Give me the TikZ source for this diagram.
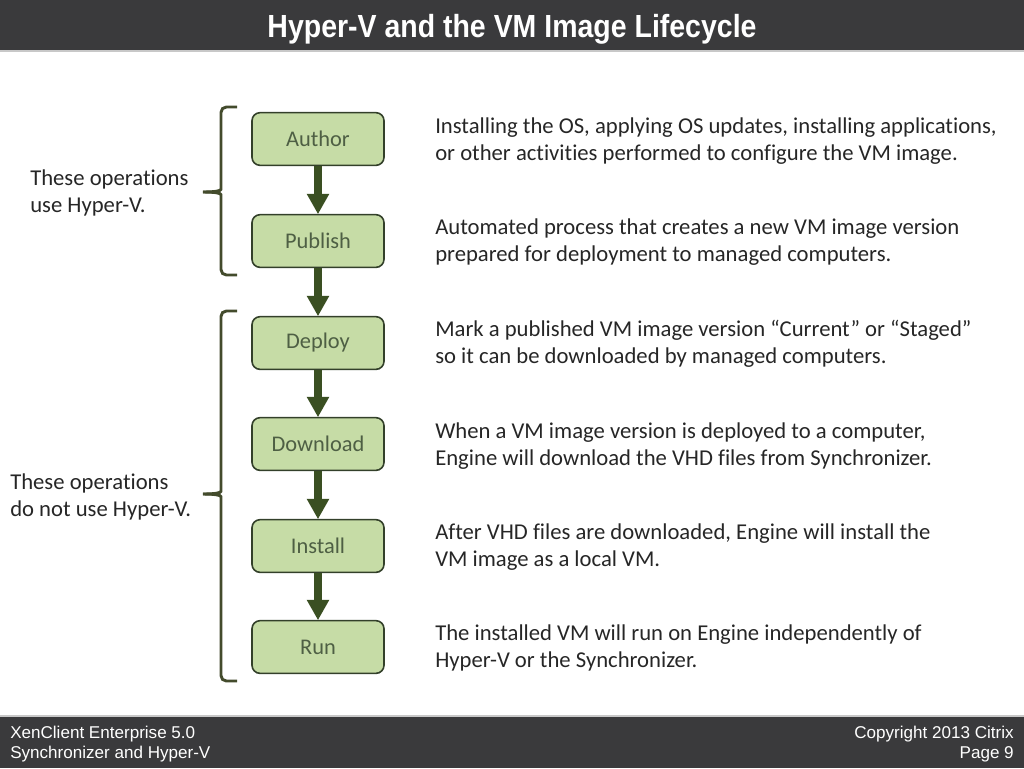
\documentclass[tikz,border=0pt]{standalone}
\usepackage{fontspec}
\setmainfont{Carlito}[Ligatures=NoCommon]
\newfontfamily\headfont{Liberation Sans}
\definecolor{barGray}{HTML}{3A3A3C}
\definecolor{lineGray}{HTML}{C8C8C8}
\definecolor{boxFill}{HTML}{C6DCA6}
\definecolor{boxEdge}{HTML}{33402A}
\definecolor{boxText}{HTML}{4E5F44}
\definecolor{flowArrow}{HTML}{3A4F22}
\definecolor{braceCol}{HTML}{434B2C}
\definecolor{bodyText}{HTML}{262626}
\begin{document}
\begin{tikzpicture}[x=0.75pt,y=-0.75pt,
  stage/.style={draw=boxEdge, line width=1.2pt, fill=boxFill, rounded corners=6pt,
    minimum width=99pt, minimum height=39.5pt, text=boxText,
    font=\fontsize{16.8}{19}\selectfont},
  explain/.style={anchor=west, align=left, text=bodyText,
    font=\fontsize{17}{20.25}\selectfont, inner sep=0pt},
  bracket/.style={draw=braceCol, line width=2.2pt}]
\useasboundingbox (0,0) rectangle (1024,768);
% title and footer bars
\fill[barGray] (0,0) rectangle (1024,50);
\fill[lineGray] (0,50) rectangle (1024,52);
\node[text=white, font=\headfont\bfseries\fontsize{24}{28}\selectfont, xscale=0.89] (title) at (512,29) {Hyper-V and the VM Image Lifecycle};
\fill[lineGray] (0,715) rectangle (1024,717);
\fill[barGray] (0,717) rectangle (1024,768);
\node[anchor=west, align=left, text=white, inner sep=0pt, font=\headfont\fontsize{12.8}{15}\selectfont] (prod) at (10,744) {XenClient Enterprise 5.0\\Synchronizer and Hyper-V};
\node[anchor=east, align=right, text=white, inner sep=0pt, font=\headfont\fontsize{12.8}{15}\selectfont] (page) at (1014,744) {Copyright 2013 Citrix\\Page 9};
% stages
\node[stage] (st0) at (318,139) {Author};
\node[stage] (st1) at (318,241) {Publish};
\node[stage] (st2) at (318,343) {Deploy};
\node[stage] (st3) at (318,444) {Download};
\node[stage] (st4) at (318,546) {Install};
\node[stage] (st5) at (318,647) {Run};
% arrows between stages
\foreach \a/\b in {st0/st1,st1/st2,st2/st3,st3/st4,st4/st5}{
  \draw[flowArrow, line width=6pt] (\a.south) -- ([yshift=14pt]\b.north);
  \fill[flowArrow] ([xshift=-8.5pt,yshift=15pt]\b.north) -- ([xshift=8.5pt,yshift=15pt]\b.north) -- (\b.north) -- cycle;
}
% descriptions
\node[explain] (tx0) at (435,141) {Installing the OS, applying OS updates, installing applications,\\or other activities performed to configure the VM image.};
\node[explain] (tx1) at (435,242) {Automated process that creates a new VM image version\\prepared for deployment to managed computers.};
\node[explain] (tx2) at (435,344) {Mark a published VM image version “Current” or “Staged”\\so it can be downloaded by managed computers.};
\node[explain] (tx3) at (435,446) {When a VM image version is deployed to a computer,\\Engine will download the VHD files from Synchronizer.};
\node[explain] (tx4) at (435,547) {After VHD files are downloaded, Engine will install the\\VM image as a local VM.};
\node[explain] (tx5) at (435,648) {The installed VM will run on Engine independently of\\Hyper-V or the Synchronizer.};
% braces
\draw[bracket, rounded corners=4pt] (237,107) -- (221,107) -- (221,184)
  .. controls (221,191) and (214,192) .. (203,192);
\draw[bracket, rounded corners=4pt] (237,275) -- (221,275) -- (221,200)
  .. controls (221,193) and (214,192) .. (203,192);
\draw[bracket, rounded corners=4pt] (237,311) -- (221,311) -- (221,486)
  .. controls (221,493) and (214,494) .. (203,494);
\draw[bracket, rounded corners=4pt] (237,681) -- (221,681) -- (221,502)
  .. controls (221,495) and (214,494) .. (203,494);
\node[explain] (grp0) at (30,193) {These operations\\use Hyper-V.};
\node[explain] (grp1) at (10,497) {These operations\\do not use Hyper-V.};
\end{tikzpicture}
\end{document}
